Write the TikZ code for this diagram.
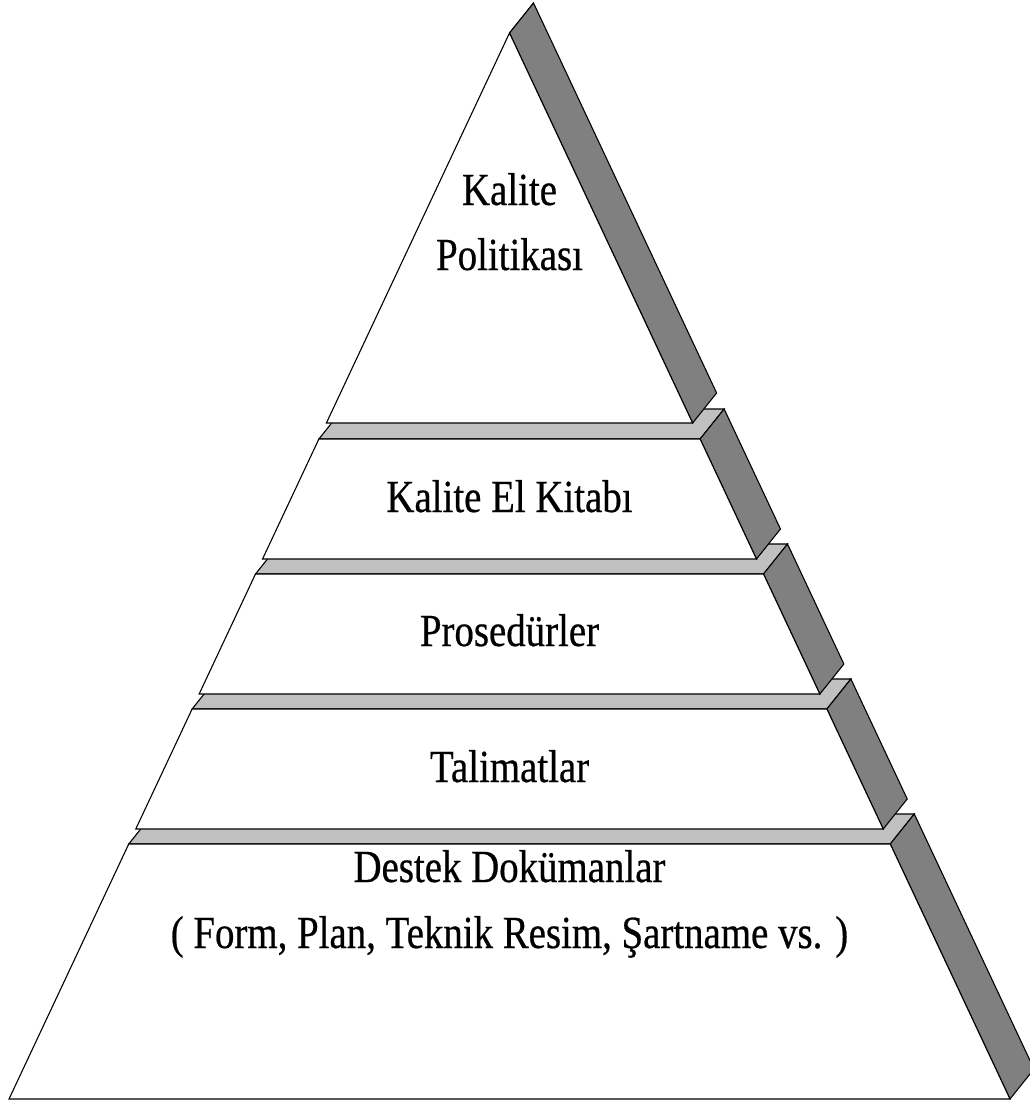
\documentclass[tikz,border=0pt]{standalone}
\usepackage{fontspec}
\newfontfamily\lblfont[FakeStretch=0.845,FakeBold=0.5]{Liberation Serif}
\definecolor{sidegray}{HTML}{808080}
\definecolor{topgray}{HTML}{C0C0C0}
\begin{document}
\begin{tikzpicture}[x=1pt,y=-1pt,line join=miter,
  facebase/.style={draw=black,line width=1.1pt},
  frontface/.style={facebase,fill=white},
  sideface/.style={facebase,fill=sidegray},
  topface/.style={facebase,fill=topgray},
  lbl/.style={font=\lblfont\fontsize{46}{54}\selectfont,anchor=base,inner sep=0pt}]
\useasboundingbox (0,0) rectangle (1030,1100);
\clip (0,0) rectangle (1030,1100);
% five stacked layers of one pyramid, drawn from the base up;
% each layer: top face, right side face, front face
\foreach \yt/\yb in {844/1099, 709/829, 574/694, 439/559, 33/423} {
  \pgfmathsetmacro\ht{0.4695*(\yt-33)}
  \pgfmathsetmacro\hb{0.4695*(\yb-33)}
  \filldraw[topface] (509.5-\ht,\yt) -- (509.5+\ht,\yt) -- (533.5+\ht,\yt-30)
    -- (533.5-\ht,\yt-30) -- cycle;
  \filldraw[sideface] (509.5+\ht,\yt) -- (509.5+\hb,\yb) -- (533.5+\hb,\yb-30)
    -- (533.5+\ht,\yt-30) -- cycle;
  \filldraw[frontface] (509.5-\ht,\yt) -- (509.5+\ht,\yt) -- (509.5+\hb,\yb)
    -- (509.5-\hb,\yb) -- cycle;
}
% labels
\node[lbl] (politika1) at (509.5,205) {Kalite};
\node[lbl] (politika2) at (509.5,270) {Politikası};
\node[lbl] (elkitabi) at (509.5,512) {Kalite El Kitabı};
\node[lbl] (prosedur) at (509.5,646) {Prosedürler};
\node[lbl] (talimat) at (509.5,782) {Talimatlar};
\node[lbl] (destek1) at (509.5,882) {Destek Dokümanlar};
\node[lbl] (destek2) at (509.5,948) {( Form, Plan, Teknik Resim, Şartname vs. )};
\end{tikzpicture}
\end{document}
